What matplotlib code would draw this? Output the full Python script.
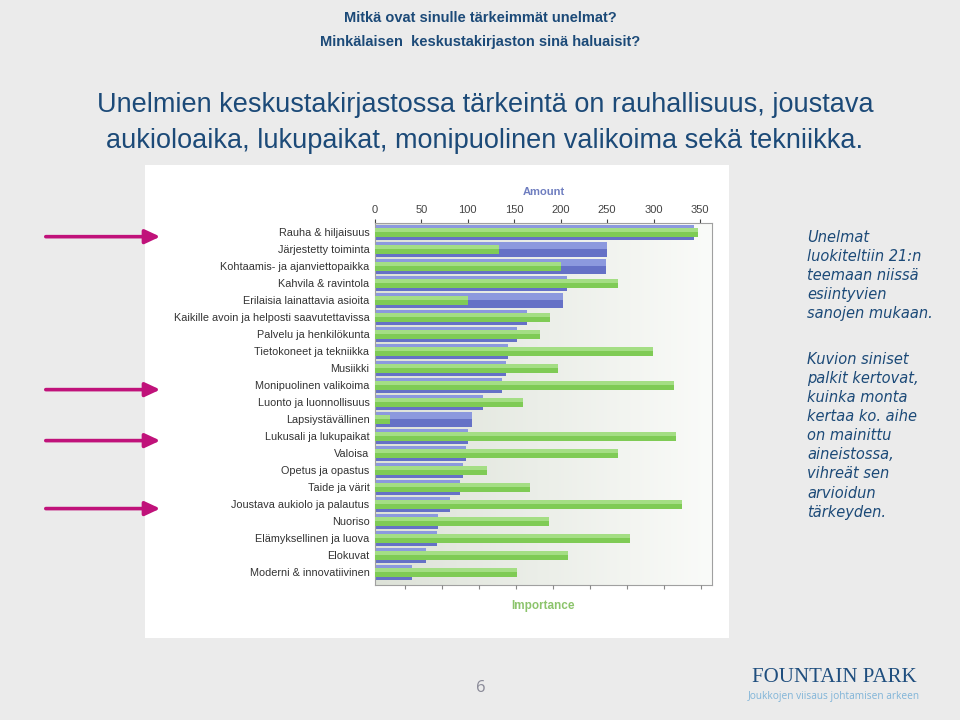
import matplotlib.pyplot as plt
import numpy as np
from matplotlib.colors import LinearSegmentedColormap
from matplotlib.patches import FancyArrowPatch, Rectangle

categories = ['Rauha & hiljaisuus', 'Järjestetty toiminta', 'Kohtaamis- ja ajanviettopaikka',
              'Kahvila & ravintola', 'Erilaisia lainattavia asioita',
              'Kaikille avoin ja helposti saavutettavissa', 'Palvelu ja henkilökunta',
              'Tietokoneet ja tekniikka', 'Musiikki', 'Monipuolinen valikoima',
              'Luonto ja luonnollisuus', 'Lapsiystävällinen', 'Lukusali ja lukupaikat',
              'Valoisa', 'Opetus ja opastus', 'Taide ja värit', 'Joustava aukiolo ja palautus',
              'Nuoriso', 'Elämyksellinen ja luova', 'Elokuvat', 'Moderni & innovatiivinen']
amount = [344, 250, 249, 207, 202, 164, 153, 143, 141, 137, 116, 104, 100, 98, 95, 92, 81, 68, 67, 55, 40]
importance = [89.2, 35.5, 52.2, 67.6, 27.0, 49.1, 46.5, 77.1, 51.3, 82.8, 41.8, 6.0, 83.4, 67.7,
              32.1, 43.7, 85.0, 48.9, 70.8, 54.1, 40.2]
amount_ticks = [0, 50, 100, 150, 200, 250, 300, 350]
importance_ticks = [10, 20, 30, 40, 50, 60, 70, 80, 90]

header = ['Mitkä ovat sinulle tärkeimmät unelmat?', 'Minkälaisen  keskustakirjaston sinä haluaisit?']
heading = ['Unelmien keskustakirjastossa tärkeintä on rauhallisuus, joustava',
           'aukioloaika, lukupaikat, monipuolinen valikoima sekä tekniikka.']
note1 = 'Unelmat\nluokiteltiin 21:n\nteemaan niissä\nesiintyvien\nsanojen mukaan.'
note2 = ('Kuvion siniset\npalkit kertovat,\nkuinka monta\nkertaa ko. aihe\non mainittu\n'
         'aineistossa,\nvihreät sen\narvioidun\ntärkeyden.')
arrow_rows = ['Rauha & hiljaisuus', 'Monipuolinen valikoima', 'Lukusali ja lukupaikat',
              'Joustava aukiolo ja palautus']

W, H = 960, 720
fig = plt.figure(figsize=(9.6, 7.2), dpi=100)
fig.patch.set_facecolor('#ebebeb')
sans = ['Liberation Sans', 'DejaVu Sans']
dark = '#1c4a78'

# header lines
fig.text(480 / W, 1 - 18 / H, header[0], ha='center', va='center', fontsize=10.5,
         fontweight='bold', color=dark, family=sans)
fig.text(480 / W, 1 - 42 / H, header[1], ha='center', va='center', fontsize=10.5,
         fontweight='bold', color=dark, family=sans)
for i, line in enumerate(heading):
    fig.text(485 / W, 1 - (105 + 36 * i) / H, line, ha='center', va='center', fontsize=19.5,
             color=dark, family=sans)

# white panel behind the chart
fig.patches.append(Rectangle((145 / W, 1 - 638 / H), (729 - 145) / W, (638 - 165) / H,
                             transform=fig.transFigure, facecolor='white', edgecolor='none',
                             zorder=-5))

ax = fig.add_axes([375 / W, 1 - 585 / H, (712 - 375) / W, (585 - 223) / H])
y = np.arange(len(categories))

# gradient background of plot area
grad = np.linspace(0, 1, 256).reshape(1, -1)
bgmap = LinearSegmentedColormap.from_list('bg', ['#dde2d8', '#fafbf9'])
ax.imshow(grad, extent=[0, 1, 0, 1], transform=ax.transAxes, cmap=bgmap, aspect='auto', zorder=0)

# blue = amount (top axis)
ax.barh(y, amount, height=0.88, color='#6571c6', zorder=2)
ax.barh(y - 0.22, amount, height=0.44, color='#8c99de', zorder=2)
ax.set_xlim(0, 363)
ax.set_ylim(20.75, -0.55)
ax.set_yticks(y)
ax.set_yticklabels(categories, fontsize=7.8, color='#333333', family=sans)
ax.tick_params(axis='y', length=0, pad=4)
for s in ax.spines.values():
    s.set_color('#a0a0a0')
    s.set_linewidth(0.8)

# green = importance (bottom axis, no labels)
ax2 = ax.twiny()
ax2.barh(y, importance, height=0.5, color='#7fcb55', zorder=3)
ax2.barh(y - 0.12, importance, height=0.25, color='#a4de84', zorder=3)
ax2.set_xlim(1.83, 93.1)
ax2.xaxis.tick_bottom()
ax2.set_xticks(importance_ticks)
ax2.set_xticklabels([])
ax2.tick_params(axis='x', colors='#888888', length=3)
ax2.set_xlabel('Importance', fontsize=8.5, fontweight='bold', color='#8cc46c', labelpad=4,
               family=sans)
ax2.xaxis.set_label_position('bottom')
for s in ax2.spines.values():
    s.set_visible(False)

ax.xaxis.tick_top()
ax.set_xticks(amount_ticks)
ax.set_xticklabels([str(t) for t in amount_ticks], family=sans)
ax.tick_params(axis='x', labelsize=8, colors='#444444', length=3, pad=3)
ax.set_xlabel('Amount', fontsize=8, fontweight='bold', color='#6f7ec0', labelpad=7, family=sans)
ax.xaxis.set_label_position('top')

# magenta arrows pointing at highlighted rows
for name in arrow_rows:
    yi = categories.index(name)
    yf = ax.transData.transform((0, yi))[1] / H - 0.006
    fig.patches.append(FancyArrowPatch(
        (43 / W, yf), (163 / W, yf), transform=fig.transFigure,
        arrowstyle='-|>,head_length=6,head_width=2.8', mutation_scale=1.5,
        color='#c0127a', linewidth=2.6))

# notes on the right
fig.text(807 / W, 1 - 230 / H, note1, ha='left', va='top', fontsize=10.5, style='italic',
         color=dark, linespacing=1.34, family='DejaVu Sans')
fig.text(807 / W, 1 - 352 / H, note2, ha='left', va='top', fontsize=10.5, style='italic',
         color=dark, linespacing=1.34, family='DejaVu Sans')

# footer
fig.text(481 / W, 1 - 688 / H, '6', ha='center', va='center', fontsize=12, color='#8a8a98',
         family='Open Sans')
fig.text(834 / W, 1 - 678 / H, 'FOUNTAIN PARK', ha='center', va='center', fontsize=15,
         color='#1f4e7e', family='Liberation Serif')
fig.text(834 / W, 1 - 697 / H, 'Joukkojen viisaus johtamisen arkeen', ha='center', va='center',
         fontsize=7.3, color='#80b4d8', family='Open Sans')

fig.savefig('out.png', dpi=100, facecolor=fig.get_facecolor())
